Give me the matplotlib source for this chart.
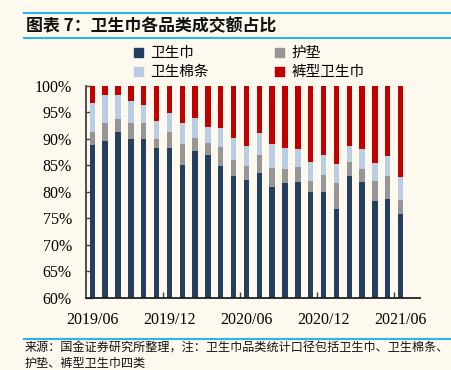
import matplotlib
matplotlib.use("Agg")
import matplotlib.pyplot as plt
from matplotlib.lines import Line2D
from matplotlib.patches import Patch
import numpy as np

plt.rcParams['font.family'] = ['Noto Sans CJK SC', 'DejaVu Sans']

# months 2019/06 .. 2021/06
months = ['2019/06', '2019/07', '2019/08', '2019/09', '2019/10', '2019/11',
          '2019/12', '2020/01', '2020/02', '2020/03', '2020/04', '2020/05',
          '2020/06', '2020/07', '2020/08', '2020/09', '2020/10', '2020/11',
          '2020/12', '2021/01', '2021/02', '2021/03', '2021/04', '2021/05',
          '2021/06']
tick_labels = ['2019/06', '2019/12', '2020/06', '2020/12', '2021/06']

# share of each category, %
pads = [88.8, 89.5, 91.2, 90.0, 90.0, 88.3, 88.2, 85.1, 87.7, 87.0, 84.8, 82.9,
        82.3, 83.6, 81.0, 81.6, 81.9, 79.9, 79.9, 76.7, 82.9, 81.8, 78.2, 78.6, 75.9]
liners = [2.5, 3.4, 2.6, 2.9, 2.9, 1.7, 3.0, 4.0, 2.5, 2.3, 3.6, 3.1,
          2.5, 3.3, 3.5, 2.7, 2.8, 2.1, 3.2, 5.0, 2.8, 2.5, 3.8, 4.3, 2.6]
tampons = [5.5, 5.3, 4.4, 4.2, 3.5, 3.4, 3.6, 3.8, 3.7, 2.9, 3.7, 4.2,
           3.9, 4.2, 4.6, 3.9, 3.3, 3.7, 3.9, 3.5, 2.9, 3.7, 3.5, 3.9, 4.3]
pants = [3.2, 1.8, 1.8, 2.9, 3.6, 6.6, 5.2, 7.1, 6.1, 7.8, 7.9, 9.8,
         11.3, 8.9, 10.9, 11.8, 12.0, 14.3, 13.0, 14.8, 11.4, 12.0, 14.5, 13.2, 17.2]

series = [('卫生巾', pads, '#243F60'),
          ('护垫', liners, '#969696'),
          ('卫生棉条', tampons, '#B9CDE5'),
          ('裤型卫生巾', pants, '#C00000')]

bg = '#FDF9EE'
fig = plt.figure(figsize=(4.52, 3.70), dpi=100, facecolor=bg)
ax = fig.add_axes([0.190, 0.195, 0.739, 0.573], facecolor=bg)

x = np.arange(len(months))
bottom = np.zeros(len(months))
for name, vals, col in series:
    ax.bar(x, vals, width=0.42, bottom=bottom, color=col, label=name, zorder=2)
    bottom += np.array(vals)

ax.set_ylim(60, 100)
ax.set_xlim(-0.5, 25.5)
ax.set_yticks(range(60, 101, 5))
ax.set_yticklabels([f'{v}%' for v in range(60, 101, 5)],
                   fontfamily='Liberation Serif', fontsize=11.5)
ax.tick_params(axis='y', direction='in', length=4, width=1, color='#404040', pad=10)

ax.set_xticks([months.index(t) for t in tick_labels])
ax.set_xticklabels(tick_labels, fontfamily='Liberation Serif', fontsize=11.5)
ax.tick_params(axis='x', which='major', length=0, pad=10)
ax.set_xticks([5.5, 11.5, 17.5, 23.5], minor=True)
ax.tick_params(axis='x', which='minor', direction='in', length=4, width=1, color='#404040')

for s in ['top', 'right']:
    ax.spines[s].set_visible(False)
ax.spines['left'].set_color('#404040')
ax.spines['bottom'].set_color('#202020')
ax.spines['left'].set_linewidth(1.3)
ax.spines['bottom'].set_linewidth(1.3)

# legend: row 1 卫生巾 / 护垫, row 2 卫生棉条 / 裤型卫生巾
handles = [Patch(color=series[i][2], label=series[i][0]) for i in [0, 2, 1, 3]]
fig.legend(handles=handles, ncol=2, loc='center left', bbox_to_anchor=(0.28, 0.830),
           frameon=False, fontsize=10.5, handlelength=0.6, handleheight=0.6,
           handletextpad=0.5, columnspacing=4.6, labelspacing=0.35, borderpad=0)

# title block
line_col = '#29B6E8'
fig.add_artist(Line2D([0.053, 0.995], [0.966, 0.966], color=line_col, lw=1.5))
fig.add_artist(Line2D([0.053, 0.995], [0.898, 0.898], color=line_col, lw=1.5))
fig.text(0.058, 0.930, '图表 7：卫生巾各品类成交额占比', fontsize=12.2,
         fontweight='bold', va='center', ha='left', color='#111111')

# source
fig.add_artist(Line2D([0.053, 0.995], [0.083, 0.083], color=line_col, lw=1.5))
fig.text(0.055, 0.058, '来源：国金证券研究所整理，注：卫生巾品类统计口径包括卫生巾、卫生棉条、',
         fontsize=8.7, va='center', ha='left', color='#111111')
fig.text(0.055, 0.019, '护垫、裤型卫生巾四类', fontsize=8.7, va='center', ha='left',
         color='#111111')

fig.savefig('out.png', dpi=100, facecolor=bg)
